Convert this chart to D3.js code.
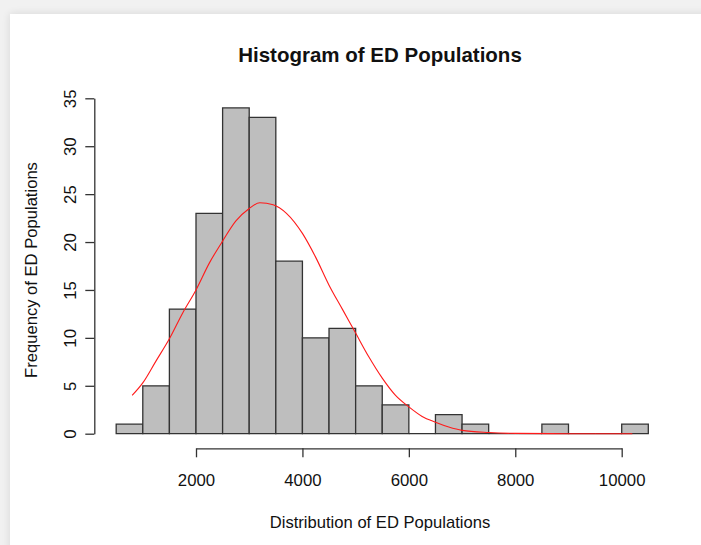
<!DOCTYPE html>
<html>
<head>
<meta charset="utf-8">
<script src="https://cdn.jsdelivr.net/npm/d3@7"></script>
<style>
  html, body { margin: 0; padding: 0; background: #f1f1f1; }
  svg { display: block; }
  text { font-family: "Liberation Sans", Arial, sans-serif; fill: #111; }
</style>
</head>
<body>
<svg id="chart" width="701" height="545"></svg>
<script>
// ---- Data ----
const binStarts = [500,1000,1500,2000,2500,3000,3500,4000,4500,5000,5500,6000,6500,7000,7500,8000,8500,9000,9500,10000];
const binWidth = 500;
const counts    = [1,5,13,23,34,33,18,10,11,5,3,0,2,1,0,0,1,0,0,1];
const xTicks = [2000,4000,6000,8000,10000];
const yTicks = [0,5,10,15,20,25,30,35];
// red fitted curve
const curveX = [800,1000,1250,1500,1750,2000,2250,2500,2750,3000,3200,3450,3700,4000,4250,4500,4750,5000,5250,5500,5750,6000,6250,6500,6750,7000,7500,8000,9000,10200];
const curveY = [4.0,5.3,7.6,9.9,12.6,15.0,17.8,20.1,22.2,23.5,24.1,23.9,23.0,20.9,18.4,15.5,13.0,10.5,8.0,5.8,4.0,2.8,1.8,1.2,0.7,0.35,0.12,0.03,0,0];
const title = "Histogram of ED Populations";
const xLabel = "Distribution of ED Populations";
const yLabel = "Frequency of ED Populations";

const svg = d3.select("#chart");

// screenshot frame: gray border + white panel
const defs = svg.append("defs");
const f = defs.append("filter").attr("id","sh").attr("x","-5%").attr("y","-5%").attr("width","110%").attr("height","110%");
f.append("feGaussianBlur").attr("in","SourceAlpha").attr("stdDeviation",4);
f.append("feComponentTransfer").append("feFuncA").attr("type","linear").attr("slope",0.12);
const m = f.append("feMerge"); m.append("feMergeNode"); m.append("feMergeNode").attr("in","SourceGraphic");
svg.append("rect").attr("x",0).attr("y",0).attr("width",701).attr("height",545).attr("fill","#f1f1f1");
svg.append("rect").attr("x",10).attr("y",14).attr("width",720).attr("height",560).attr("fill","#ffffff").attr("filter","url(#sh)");

const x = d3.scaleLinear().domain([2000,10000]).range([196,621.7]);
const y = d3.scaleLinear().domain([0,35]).range([433.7,98.3]);

// bars (paths so zero-count bins still show their baseline)
svg.append("g").selectAll("path").data(binStarts).join("path")
  .attr("d",(d,i)=>{
    const x0=x(d), x1=x(d+binWidth), y0=y(0), y1=y(counts[i]);
    return `M${x0},${y0}V${y1}H${x1}V${y0}Z`;
  })
  .attr("fill","#bebebe").attr("stroke","#333").attr("stroke-width",1.3)
  .attr("stroke-linejoin","miter");

// red curve
const line = d3.line().x(d=>x(d[0])).y(d=>y(d[1])).curve(d3.curveMonotoneX);
svg.append("path").datum(curveX.map((v,i)=>[v,curveY[i]]))
  .attr("d",line).attr("fill","none").attr("stroke","#ff1a1a").attr("stroke-width",1.1);

// x axis
const gx = svg.append("g").attr("transform","translate(0,448.3)")
  .call(d3.axisBottom(x).tickValues(xTicks).tickSize(9).tickSizeOuter(0).tickFormat(d3.format("d")));
gx.selectAll("path,line").attr("stroke","#333").attr("stroke-width",1.3);
gx.selectAll("text").attr("y",37.7).attr("dy",0).style("font-size","16.8px")
  .style("font-family","'Liberation Sans', Arial, sans-serif").attr("fill","#111");

// y axis
const gy = svg.append("g").attr("transform","translate(94.3,0)")
  .call(d3.axisLeft(y).tickValues(yTicks).tickSize(9).tickSizeOuter(0));
gy.selectAll("path,line").attr("stroke","#333").attr("stroke-width",1.3);
gy.selectAll("text").attr("x",0).attr("dy",0).attr("text-anchor","middle")
  .attr("transform","translate(-18,0) rotate(-90)").style("font-size","16.8px")
  .style("font-family","'Liberation Sans', Arial, sans-serif").attr("fill","#111");

// titles
svg.append("text").attr("x",380).attr("y",61.5).attr("text-anchor","middle")
  .style("font-size","20.5px").style("font-weight","bold").text(title);
svg.append("text").attr("x",380).attr("y",527.5).attr("text-anchor","middle")
  .style("font-size","16.6px").text(xLabel);
svg.append("text").attr("transform","translate(36.5,270) rotate(-90)").attr("text-anchor","middle")
  .style("font-size","16.6px").text(yLabel);
</script>
</body>
</html>
